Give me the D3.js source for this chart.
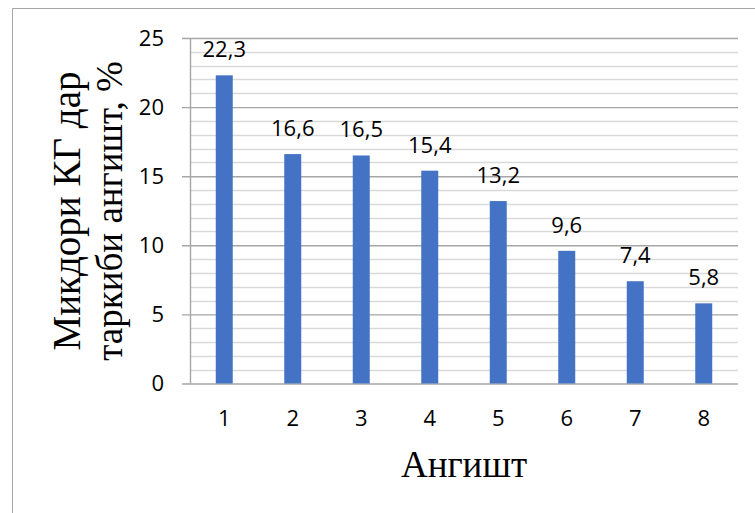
<!DOCTYPE html>
<html>
<head>
<meta charset="utf-8">
<script src="https://cdn.jsdelivr.net/npm/d3@7"></script>
<style>
  html, body { margin: 0; padding: 0; background: #fff; }
  svg { display: block; }
</style>
</head>
<body>
<svg id="chart" width="755" height="513"></svg>
<script>
// Coal samples and share of combustible gas in each
const categories = ["1", "2", "3", "4", "5", "6", "7", "8"];
const values = [22.3, 16.6, 16.5, 15.4, 13.2, 9.6, 7.4, 5.8];
const valueLabels = ["22,3", "16,6", "16,5", "15,4", "13,2", "9,6", "7,4", "5,8"];
const yTicks = [0, 5, 10, 15, 20, 25];
const yTitleLines = ["Микдори КГ дар", "таркиби ангишт, %"];
const xTitle = "Ангишт";

const W = 755, H = 513;
const plot = { left: 190, right: 738, top: 38, bottom: 383.5 };

const svg = d3.select("#chart");

// outer frame (top and left edges)
svg.append("path")
  .attr("d", `M12.5,${H} V8.5 H${W}`)
  .attr("fill", "none")
  .attr("stroke", "#a6a6a6")
  .attr("stroke-width", 1);

const x = d3.scaleBand()
  .domain(categories)
  .range([plot.left, plot.right])
  .paddingInner(0.752)
  .paddingOuter(0.376);

const y = d3.scaleLinear()
  .domain([0, 25])
  .range([plot.bottom, plot.top]);

const sans = "'Open Sans', 'Noto Sans', sans-serif";
const serif = "'Liberation Serif', 'DejaVu Serif', serif";
const labelSize = 22;

// minor gridlines every unit
const minor = d3.range(0, 26, 1).filter(v => v % 5 !== 0);
svg.append("g")
  .selectAll("line")
  .data(minor)
  .join("line")
  .attr("x1", plot.left)
  .attr("x2", plot.right)
  .attr("y1", d => Math.round(y(d)) + 0.5)
  .attr("y2", d => Math.round(y(d)) + 0.5)
  .attr("stroke", "#d9d9d9")
  .attr("stroke-width", 1.4);

// major gridlines with ticks drawn by the axis
const yAxis = d3.axisLeft(y)
  .tickValues(yTicks)
  .tickSize(plot.right - plot.left + 8)
  .tickPadding(18)
  .tickFormat(d3.format("d"));

const gy = svg.append("g")
  .attr("transform", `translate(${plot.right},0)`)
  .call(yAxis);
gy.select(".domain").remove();
gy.selectAll(".tick line")
  .attr("stroke", "#a6a6a6")
  .attr("stroke-width", 1.4);
gy.selectAll(".tick text")
  .attr("font-family", sans)
  .attr("font-size", labelSize)
  .attr("fill", "#000");

// vertical axis line
svg.append("line")
  .attr("x1", plot.left + 0.5)
  .attr("x2", plot.left + 0.5)
  .attr("y1", y(25))
  .attr("y2", y(0))
  .attr("stroke", "#a6a6a6")
  .attr("stroke-width", 1.4);

// bars
svg.append("g")
  .selectAll("rect")
  .data(values)
  .join("rect")
  .attr("x", (d, i) => x(categories[i]))
  .attr("width", x.bandwidth())
  .attr("y", d => y(d))
  .attr("height", d => y(0) - y(d))
  .attr("fill", "#4472c4");

// value labels
svg.append("g")
  .selectAll("text")
  .data(values)
  .join("text")
  .attr("x", (d, i) => x(categories[i]) + x.bandwidth() / 2)
  .attr("y", d => y(d) - 18)
  .attr("text-anchor", "middle")
  .attr("font-family", sans)
  .attr("font-size", labelSize)
  .attr("fill", "#000")
  .text((d, i) => valueLabels[i]);

// category axis
const xAxis = d3.axisBottom(x).tickSize(0).tickPadding(27);
const gx = svg.append("g")
  .attr("transform", `translate(0,${plot.bottom})`)
  .call(xAxis);
gx.select(".domain").remove();
gx.selectAll(".tick text")
  .attr("font-family", sans)
  .attr("font-size", labelSize)
  .attr("fill", "#000");

// axis titles
svg.append("text")
  .attr("x", (plot.left + plot.right) / 2)
  .attr("y", 477)
  .attr("text-anchor", "middle")
  .attr("font-family", serif)
  .attr("font-size", 37)
  .attr("fill", "#000")
  .text(xTitle);

const yt = svg.append("text")
  .attr("transform", "translate(0,211) rotate(-90)")
  .attr("text-anchor", "middle")
  .attr("font-family", serif)
  .attr("fill", "#000");
yt.append("tspan").attr("x", 0).attr("y", 80).attr("font-size", 39).text(yTitleLines[0]);
yt.append("tspan").attr("x", 0).attr("y", 122).attr("font-size", 37).text(yTitleLines[1]);
</script>
</body>
</html>
